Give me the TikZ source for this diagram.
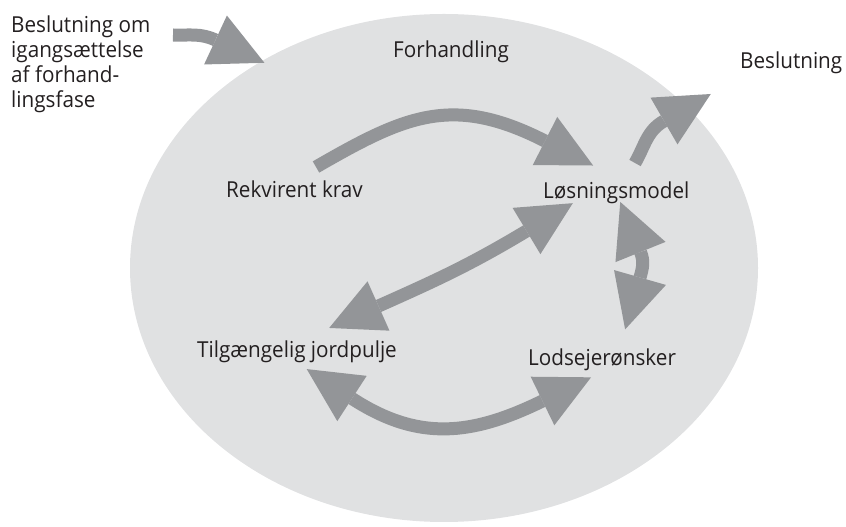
\documentclass[tikz,border=0pt]{standalone}
\usepackage{fontspec}
\setmainfont{Open Sans}[FakeStretch=0.94]
\usetikzlibrary{arrows.meta}
\definecolor{bubble}{HTML}{E0E1E2}
\definecolor{flow}{HTML}{939598}
\definecolor{ink}{HTML}{231F20}
\tikzset{
  txt/.style={anchor=base west, inner sep=0pt, text=ink,
    font=\fontsize{22}{25}\selectfont},
  bighead/.tip={Triangle[length=54pt,width=54pt,line width=0pt]},
  oneway/.style={draw=flow, line width=13pt, shorten >=-54pt, -bighead},
  twoway/.style={draw=flow, line width=13pt, shorten >=-54pt,
    shorten <=-54pt, bighead-bighead},
}
\begin{document}
\begin{tikzpicture}[x=1pt,y=1pt]
\useasboundingbox (0,0) rectangle (846,527);

% negotiation phase
\fill[bubble] (444,259) ellipse [x radius=314, y radius=254];

% shaft ends (the heads are added beyond them)
\coordinate (in-s)   at (173,492);
\coordinate (in-e)   at (215.5,487);
\coordinate (req-s)  at (316,360);
\coordinate (req-e)  at (545,386);
\coordinate (out-s)  at (635,364);
\coordinate (out-e)  at (664,406);
\coordinate (diag-a) at (378.5,221);
\coordinate (diag-b) at (526.5,296);
\coordinate (low-a)  at (352,128.5);
\coordinate (low-b)  at (542.5,126);
\coordinate (side-a) at (640,249.5);
\coordinate (side-b) at (640.5,275);

\draw[oneway] (in-s) to[out=-2,in=155] (in-e);
\draw[oneway] (req-s) to[out=30,in=153,looseness=1.15] (req-e);
\draw[oneway] (out-s) to[out=60,in=210] (out-e);
\draw[twoway] (diag-a) to[out=24,in=211] (diag-b);
\draw[twoway] (low-a) to[out=-33,in=206,looseness=1.06] (low-b);
\draw[twoway] (side-a) to[out=74,in=-68] (side-b);

% labels (a multi-line node sits on the baseline of its last line)
\node[txt, align=left] (start) at (11,419)
  {Beslutning om\\igangsættelse\\af forhand-\\lingsfase};
\node[txt] (phase)    at (393,469) {Forhandling};
\node[txt] (decision) at (740,458) {Beslutning};
\node[txt] (claim)    at (226,329) {Rekvirent krav};
\node[txt] (model)    at (543,328) {Løsningsmodel};
\node[txt] (pool)     at (197,169) {Tilgængelig jordpulje};
\node[txt] (wishes)   at (528,161) {Lodsejerønsker};
\end{tikzpicture}
\end{document}
